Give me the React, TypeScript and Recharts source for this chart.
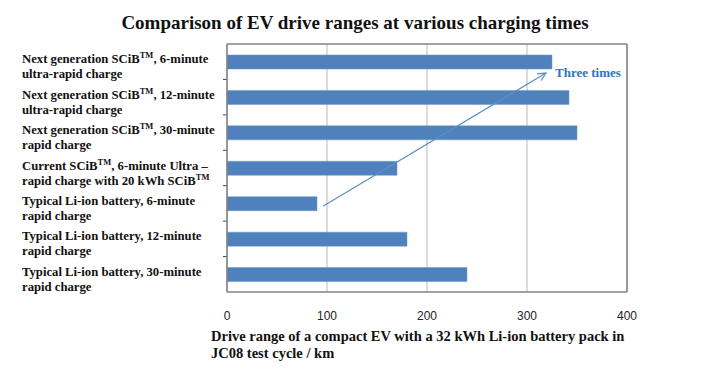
import React from 'react';
import {
  BarChart,
  Bar,
  XAxis,
  YAxis,
  CartesianGrid,
  ReferenceLine,
} from 'recharts';

const CATEGORIES = [
  'Next generation SCiB™, 6-minute\nultra-rapid charge',
  'Next generation SCiB™, 12-minute\nultra-rapid charge',
  'Next generation SCiB™, 30-minute\nrapid charge',
  'Current SCiB™, 6-minute Ultra –\nrapid charge with 20 kWh SCiB™',
  'Typical Li-ion battery, 6-minute\nrapid charge',
  'Typical Li-ion battery, 12-minute\nrapid charge',
  'Typical Li-ion battery, 30-minute\nrapid charge',
];
const RANGES = [325, 342, 350, 170, 90, 180, 240];
const X_TICKS = [0, 100, 200, 300, 400];
const ROW_EDGES = [0, 1, 2, 3, 4, 5, 6, 7];
// arrow endpoints: x in km, y in category rows from the top
const ARROW_FROM = { x: 96, y: 4.58 };
const ARROW_TO = { x: 319, y: 0.82 };
const ARROW_TEXT = 'Three times';

const SERIF = '"Liberation Serif", "Times New Roman", serif';
const SANS = '"Liberation Sans", Arial, sans-serif';
const BAR_BLUE = '#4f81bd';
const TEXT_BLUE = '#2e75b6';
const FRAME = '#808080';

const data = CATEGORIES.map((label, i) => ({ label, range: RANGES[i] }));

// the hidden "rows" axis spans index 0..n-1 over the plot height,
// so convert "rows from the top" into that index space
const N = CATEGORIES.length;
const toAxis = (r: number) => (r * (N - 1)) / N;

// renders a line, turning "™" into a small superscript TM
const renderLine = (line: string) => {
  const parts = line.split('™');
  const out: React.ReactNode[] = [];
  parts.forEach((p, i) => {
    out.push(
      <tspan key={`p${i}`} fontSize={12.7} dy={i === 0 ? 0 : 4}>
        {p}
      </tspan>
    );
    if (i < parts.length - 1) {
      out.push(
        <tspan key={`t${i}`} fontSize={8.5} dy={-4}>
          TM
        </tspan>
      );
    }
  });
  return out;
};

const CategoryTick = (props: any) => {
  const { y, payload } = props;
  const lines = String(payload.value).split('\n');
  return (
    <g>
      {lines.map((line, i) => (
        <text
          key={i}
          x={22}
          y={y - 2.5 + i * 15}
          dominantBaseline="central"
          fontFamily={SERIF}
          fontWeight="bold"
          fontSize={12.7}
          fill="#111"
        >
          {renderLine(line)}
        </text>
      ))}
    </g>
  );
};

// short outward tick drawn left of a zero-length segment on the frame
const RowTick = (props: any) => {
  const { x1, y1 } = props;
  return <line x1={x1 - 4} y1={y1} x2={x1} y2={y1} stroke="#444" strokeWidth={1} />;
};

const ArrowShape = (props: any) => {
  const { x1, y1, x2, y2 } = props;
  const ang = Math.atan2(y2 - y1, x2 - x1);
  const len = 9;
  const spread = 0.45;
  const ax = x2 - len * Math.cos(ang - spread);
  const ay = y2 - len * Math.sin(ang - spread);
  const bx = x2 - len * Math.cos(ang + spread);
  const by = y2 - len * Math.sin(ang + spread);
  return (
    <g>
      <line x1={x1} y1={y1} x2={x2} y2={y2} stroke="#5b8fc9" strokeWidth={1.2} />
      <path
        d={`M${ax},${ay} L${x2},${y2} L${bx},${by}`}
        fill="none"
        stroke="#5b8fc9"
        strokeWidth={1.2}
      />
      <text
        x={x2 + 9}
        y={y2 - 1}
        dominantBaseline="central"
        fontFamily={SERIF}
        fontWeight="bold"
        fontSize={13}
        fill={TEXT_BLUE}
      >
        {ARROW_TEXT}
      </text>
    </g>
  );
};

export default function App() {
  return (
    <div style={{ position: 'absolute', left: 0, top: 0, width: 710, height: 377, background: '#fff' }}>
      <div
        style={{
          position: 'absolute',
          left: 0,
          top: 13,
          width: 710,
          textAlign: 'center',
          fontFamily: SERIF,
          fontWeight: 'bold',
          fontSize: 19,
          lineHeight: '20px',
          color: '#111',
        }}
      >
        Comparison of EV drive ranges at various charging times
      </div>
      <BarChart
        width={710}
        height={377}
        data={data}
        layout="vertical"
        margin={{ top: 44, right: 83, bottom: 55, left: 22 }}
      >
        <CartesianGrid horizontal={false} stroke="#d0d0d0" strokeWidth={1.5} />
        <XAxis
          type="number"
          domain={[0, 400]}
          allowDataOverflow
          ticks={X_TICKS}
          height={30}
          tickLine={false}
          tickSize={0}
          tickMargin={19}
          axisLine={false}
          tick={{ fontFamily: SANS, fontSize: 12, fill: '#222' }}
        />
        <YAxis yAxisId="rows" type="number" hide />
        <YAxis
          type="category"
          dataKey="label"
          width={205}
          tickLine={false}
          axisLine={false}
          tick={CategoryTick}
          interval={0}
        />
        <Bar dataKey="range" fill={BAR_BLUE} stroke="#6a95c9" strokeWidth={0.5} barSize={14} isAnimationActive={false} />
        {ROW_EDGES.slice(1, -1).map((r) => (
          <ReferenceLine
            key={r}
            yAxisId="rows"
            segment={[{ x: 0, y: toAxis(r) }, { x: 0, y: toAxis(r) }]}
            shape={RowTick}
          />
        ))}
        <ReferenceLine x={0} stroke={FRAME} strokeWidth={1.5} />
        <ReferenceLine x={400} stroke={FRAME} strokeWidth={1.5} />
        <ReferenceLine yAxisId="rows" y={toAxis(ROW_EDGES[0])} stroke={FRAME} strokeWidth={1.5} ifOverflow="visible" />
        <ReferenceLine yAxisId="rows" y={toAxis(ROW_EDGES[7])} stroke={FRAME} strokeWidth={1.5} ifOverflow="visible" />
        <ReferenceLine
          yAxisId="rows"
          segment={[
            { x: ARROW_FROM.x, y: toAxis(ARROW_FROM.y) },
            { x: ARROW_TO.x, y: toAxis(ARROW_TO.y) },
          ]}
          shape={ArrowShape}
        />
      </BarChart>
      <div
        style={{
          position: 'absolute',
          left: 211,
          top: 328,
          fontFamily: SERIF,
          fontWeight: 'bold',
          fontSize: 14.5,
          lineHeight: '16.5px',
          color: '#111',
          whiteSpace: 'pre',
        }}
      >
        {'Drive range of a compact EV with a 32 kWh Li-ion battery pack in\nJC08 test cycle / km'}
      </div>
    </div>
  );
}
